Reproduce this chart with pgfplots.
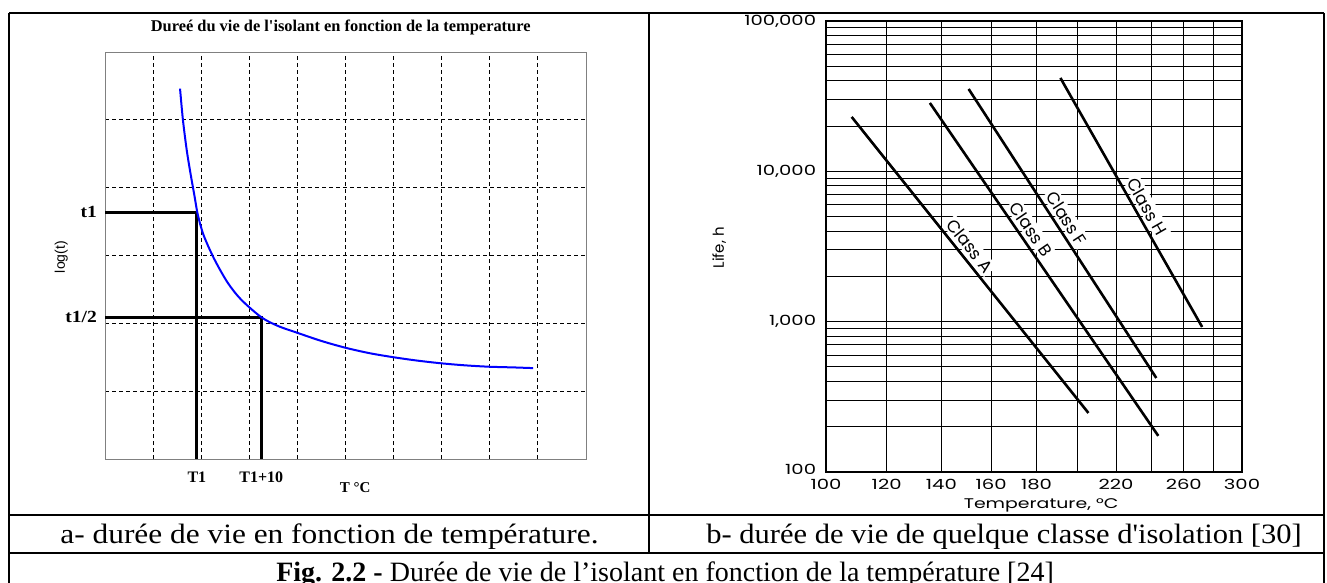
\documentclass[border=0pt]{standalone}
\usepackage{fontspec}
\setmainfont{Liberation Serif}
\newfontfamily\gothic{Poppins}
\newfontfamily\arialf{Liberation Sans}
\usepackage{pgfplots}
\pgfplotsset{compat=1.18}

\begin{document}
\begin{tikzpicture}
\path[use as bounding box, clip] (0pt,0pt) rectangle (663.5pt,-291.5pt);
\begin{scope}[x=0.5pt,y=-0.5pt]
\draw[line width=1.2pt] (9,13) -- (1324,13);
\draw[line width=1.2pt] (9,13) -- (9,600);
\draw[line width=1.2pt] (1324,13) -- (1324,600);
\draw[line width=1.2pt] (649,13) -- (649,553);
\draw[line width=1.2pt] (9,515) -- (1324,515);
\draw[line width=1.2pt] (9,553) -- (1324,553);
\node[anchor=base, font=\fontsize{14}{16}\selectfont, inner sep=0pt, xscale=1.12] at (329.5,543) {a- durée de vie en fonction de température.};
\node[anchor=base, font=\fontsize{14}{16}\selectfont, inner sep=0pt, xscale=1.09] at (1004,543) {b- durée de vie de quelque classe d\textquotesingle isolation [30]};
\node[anchor=base, font=\fontsize{14}{16}\selectfont, inner sep=0pt] at (665,581) {\textbf{Fig. 2.2 -} Durée de vie de l’isolant en fonction de la température [24]};
\end{scope}

% ---------- left chart ----------
\begin{axis}[
  at={(52.5pt,-229.5pt)}, anchor=south west,
  scale only axis, width=240.5pt, height=203.5pt,
  xmin=0, xmax=10, ymin=0, ymax=6,
  xtick={1,...,9}, ytick={1,...,5},
  xticklabels={}, yticklabels={},
  major tick length=0pt,
  grid=major,
  major grid style={black, line width=0.5pt, dash pattern=on 2pt off 1.5pt},
  axis line style={gray, line width=0.5pt},
  extra x ticks={1.91,3.25}, extra x tick labels={T1,T1+10},
  extra y ticks={3.64,2.09}, extra y tick labels={t1,t1/2},
  extra x tick style={grid=none, major tick length=0pt},
  extra y tick style={grid=none, major tick length=0pt},
  xticklabel style={font=\bfseries\fontsize{8}{9}\selectfont, yshift=-3pt},
  yticklabel style={font=\bfseries\fontsize{8.5}{9}\selectfont, xscale=1.15},
  title={Dureé du vie de l\textquotesingle isolant en fonction de la temperature},
  title style={at={(axis description cs:0.49,1.032)}, anchor=center, font=\bfseries\fontsize{8.2}{9}\selectfont},
  xlabel={T °C},
  xlabel style={at={(axis description cs:0.52,-0.071)}, anchor=center, font=\bfseries\fontsize{7.5}{8}\selectfont},
  ylabel={log(t)},
  ylabel style={at={(axis description cs:-0.091,0.496)}, anchor=center, font=\arialf\fontsize{7}{8}\selectfont},
]
\addplot[black, line width=1.5pt] coordinates {(0,3.64) (1.91,3.64) (1.91,0)};
\addplot[black, line width=1.5pt] coordinates {(0,2.09) (3.25,2.09) (3.25,0)};
\addplot[blue, line width=1pt, smooth] coordinates {
(1.56,5.46) (1.62,5.0) (1.70,4.55) (1.78,4.2) (1.86,3.88) (1.93,3.6)
(2.05,3.3) (2.27,2.95) (2.55,2.6) (2.83,2.35) (3.25,2.09) (3.6,1.96)
(4.0,1.86) (4.5,1.74) (5.0,1.64) (5.5,1.56) (6.0,1.50) (6.5,1.45)
(7.0,1.41) (7.5,1.38) (8.0,1.36) (8.5,1.35) (8.9,1.34)};
\end{axis}

% ---------- right chart ----------
\begin{axis}[
  at={(413pt,-236pt)}, anchor=south west,
  scale only axis, width=208pt, height=225.5pt,
  x coord trafo/.code={\pgfmathparse{-1000/(#1+273.15)}},
  x coord inv trafo/.code={\pgfmathparse{-1000/(#1)-273.15}},
  xmin=100, xmax=300,
  ymode=log, ymin=100, ymax=100000,
  xtick={100,120,140,160,180,200,220,240,260,280,300},
  xticklabels={100,120,140,160,180,,220,,260,,300},
  ytick={100,1000,10000,100000},
  yticklabels={\raisebox{2.5pt}{100},{1,000},{10,000},{100,000}},
  minor ytick={200,300,400,500,600,700,800,900,2000,3000,4000,5000,6000,7000,8000,9000,20000,30000,40000,50000,60000,70000,80000,90000},
  grid=both,
  major grid style={black, line width=0.5pt},
  minor grid style={black, line width=0.5pt},
  major tick length=0pt, minor tick length=0pt,
  axis line style={black, line width=0.9pt},
  tick label style={font=\gothic\fontsize{7}{8}\selectfont, xscale=1.4},
  xlabel={Temperature, °C},
  xlabel style={at={(axis description cs:0.517,-0.073)}, anchor=center, font=\gothic\fontsize{7}{8}\selectfont, xscale=1.35},
  ylabel={Life, h},
  ylabel style={at={(axis description cs:-0.257,0.497)}, anchor=center, font=\gothic\fontsize{7.5}{8}\selectfont},
]
\addplot[black, line width=1.3pt] coordinates {(108.2,23000) (205.3,247)}
  node[pos=0.46, sloped, above, font=\gothic\fontsize{8.5}{9}\selectfont, fill=white, inner sep=1pt, yshift=1pt] {Class A};
\addplot[black, line width=1.3pt] coordinates {(135.6,28500) (244.2,174)}
  node[pos=0.40, sloped, above, font=\gothic\fontsize{8.5}{9}\selectfont, fill=white, inner sep=1pt, yshift=1pt] {Class B};
\addplot[black, line width=1.3pt] coordinates {(150.7,35300) (243.0,422)}
  node[pos=0.47, sloped, above, font=\gothic\fontsize{8.5}{9}\selectfont, fill=white, inner sep=1pt, yshift=1pt] {Class F};
\addplot[black, line width=1.3pt] coordinates {(191.3,41800) (272.0,922)}
  node[pos=0.54, sloped, above, font=\gothic\fontsize{8.5}{9}\selectfont, fill=white, inner sep=1pt, yshift=1pt] {Class H};
\end{axis}
\end{tikzpicture}
\end{document}
